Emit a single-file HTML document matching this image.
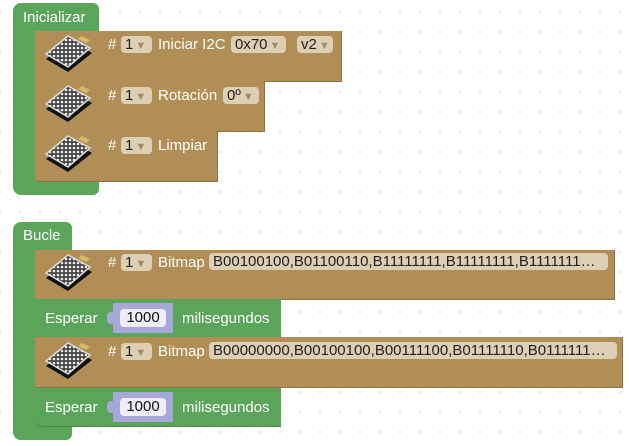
<!DOCTYPE html>
<html><head><meta charset="utf-8"><style>
body{margin:0;width:629px;height:446px;overflow:hidden;background:#fff;
background-image:radial-gradient(circle,#ddd 1px,transparent 1.3px);background-size:20px 20px;background-position:10px 2px;
font-family:"Liberation Sans",sans-serif;font-size:15px;position:relative}
.a{position:absolute;box-sizing:border-box}
.g{background:#5ba55b}
.b{background:#b18e56;border-bottom:1px solid #8d7040;border-right:1px solid #8d7040}
.t{position:absolute;color:#fff;white-space:nowrap;line-height:17px}
.f{position:absolute;background:#dccfb4;border-radius:4px;color:#222;height:17px;line-height:17px;padding-left:4px;white-space:nowrap;box-sizing:border-box;overflow:hidden}
.f i{font-style:normal;color:#a08a64;font-size:11px;margin-left:2px}
.ic{position:absolute;width:50px;height:40px}
.num{position:absolute;background:#a6a6d9;height:30px;width:60px}
.num span{position:absolute;left:7px;top:6px;width:46px;height:18px;background:#eeeef8;border-radius:4px;color:#111;text-align:center;line-height:18px}
</style></head><body>
<div class="a g" style="left:13px;top:3px;width:86px;height:192px;border-radius:8px 6px 6px 8px"></div>
<div class="a" style="left:35px;top:31px;width:64px;height:150px;background:#b18e56"></div>
<div class="t" style="left:23px;top:9px">Inicializar</div>

<div class="a b" style="left:35px;top:31px;width:307px;height:51px"></div>
<div class="a b" style="left:35px;top:81px;width:230px;height:51px"></div>
<div class="a b" style="left:35px;top:131px;width:183px;height:51px;border-radius:0 0 0 6px"></div>

<div class="a g" style="left:13px;top:222px;width:59px;height:218px;border-radius:8px 6px 6px 8px"></div>
<div class="t" style="left:23px;top:227px">Bucle</div>
<div class="a b" style="left:35px;top:250px;width:580px;height:50px"></div>
<div class="a g" style="left:35px;top:299px;width:246px;height:39px;border-bottom:1px solid #4a8a4a"></div>
<div class="a b" style="left:35px;top:337px;width:588px;height:51px"></div>
<div class="a g" style="left:35px;top:388px;width:246px;height:39px;border-bottom:1px solid #4a8a4a;border-radius:0 0 0 6px"></div>

<svg width="0" height="0" style="position:absolute"><defs>
<pattern id="d" width="4" height="4" patternUnits="userSpaceOnUse"><rect width="4" height="4" fill="#444"/><circle cx="2" cy="2" r="1.3" fill="#eee"/></pattern>
<g id="m"><polygon points="2,25 24,38 48,19 26,7" fill="#111"/><polygon points="2,20 24,33 46,14 24,2" fill="url(#d)" stroke="#ddd" stroke-width="1.5"/><polygon points="38,2 46,6 42,9 34,5" fill="#d8b86a"/></g>
</defs></svg>
<svg class="ic" style="left:44px;top:34px"><use href="#m"/></svg>
<svg class="ic" style="left:44px;top:84px"><use href="#m"/></svg>
<svg class="ic" style="left:44px;top:134px"><use href="#m"/></svg>
<svg class="ic" style="left:44px;top:253px"><use href="#m"/></svg>
<svg class="ic" style="left:44px;top:341px"><use href="#m"/></svg>

<div class="t" style="left:108px;top:36px">#</div><div class="f" style="left:121px;top:36px;width:31px">1<i>▼</i></div>
<div class="t" style="left:158px;top:36px">Iniciar I2C</div>
<div class="f" style="left:231px;top:36px;width:55px">0x70<i>▼</i></div>
<div class="f" style="left:297px;top:36px;width:36px">v2<i>▼</i></div>

<div class="t" style="left:108px;top:87px">#</div><div class="f" style="left:121px;top:87px;width:31px">1<i>▼</i></div>
<div class="t" style="left:158px;top:87px">Rotación</div>
<div class="f" style="left:223px;top:87px;width:36px">0º<i>▼</i></div>

<div class="t" style="left:108px;top:137px">#</div><div class="f" style="left:121px;top:137px;width:31px">1<i>▼</i></div>
<div class="t" style="left:158px;top:137px">Limpiar</div>

<div class="t" style="left:108px;top:254px">#</div><div class="f" style="left:121px;top:254px;width:31px">1<i>▼</i></div>
<div class="t" style="left:158px;top:254px">Bitmap</div>
<div class="f" style="left:209px;top:253px;width:399px">B00100100,B01100110,B11111111,B11111111,B1111111…</div>

<div class="t" style="left:45px;top:310px">Esperar</div>
<div class="num" style="left:113px;top:303px"><span>1000</span></div>
<div class="a" style="left:107px;top:312px;width:8px;height:12px;background:#a6a6d9;border-radius:4px 0 0 4px"></div>
<div class="t" style="left:182px;top:310px">milisegundos</div>

<div class="t" style="left:108px;top:343px">#</div><div class="f" style="left:121px;top:343px;width:31px">1<i>▼</i></div>
<div class="t" style="left:158px;top:343px">Bitmap</div>
<div class="f" style="left:209px;top:342px;width:408px">B00000000,B00100100,B00111100,B01111110,B0111111…</div>

<div class="t" style="left:45px;top:399px">Esperar</div>
<div class="num" style="left:113px;top:392px"><span>1000</span></div>
<div class="a" style="left:107px;top:401px;width:8px;height:12px;background:#a6a6d9;border-radius:4px 0 0 4px"></div>
<div class="t" style="left:182px;top:399px">milisegundos</div>
</body></html>
